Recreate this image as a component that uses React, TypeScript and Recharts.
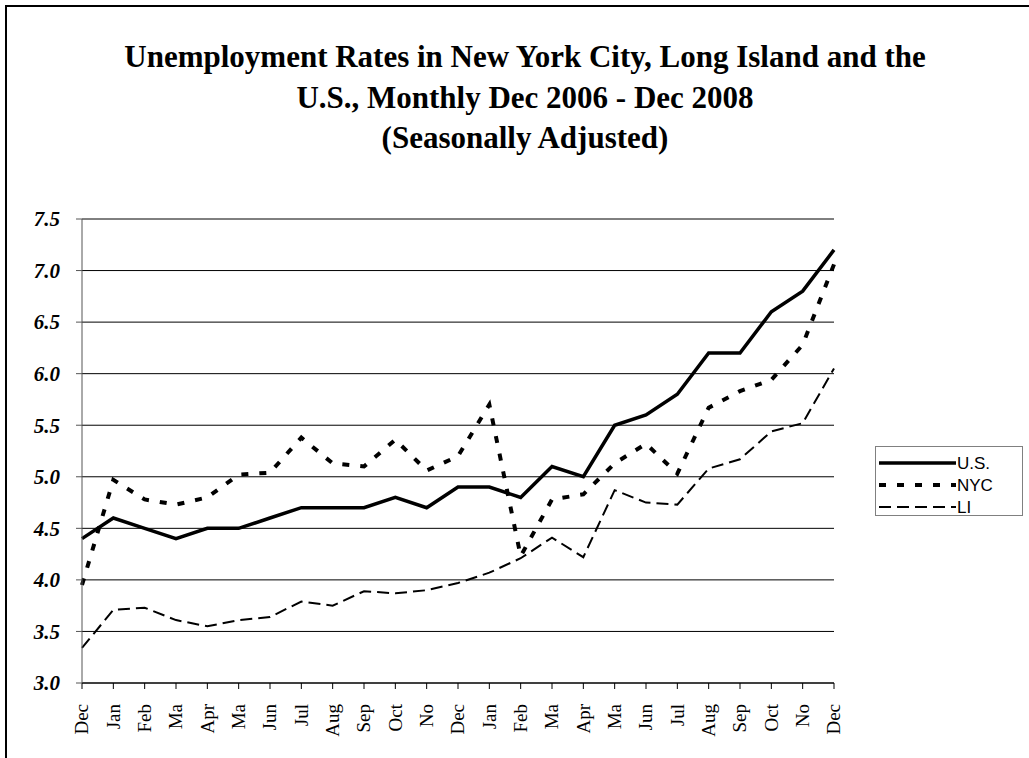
import React from 'react';
import { LineChart, Line, XAxis, YAxis, CartesianGrid } from 'recharts';

const months = ['Dec', 'Jan', 'Feb', 'Ma', 'Apr', 'Ma', 'Jun', 'Jul', 'Aug', 'Sep', 'Oct', 'No', 'Dec',
  'Jan', 'Feb', 'Ma', 'Apr', 'Ma', 'Jun', 'Jul', 'Aug', 'Sep', 'Oct', 'No', 'Dec'];
const us = [4.4, 4.6, 4.5, 4.4, 4.5, 4.5, 4.6, 4.7, 4.7, 4.7, 4.8, 4.7, 4.9,
  4.9, 4.8, 5.1, 5.0, 5.5, 5.6, 5.8, 6.2, 6.2, 6.6, 6.8, 7.2];
const nyc = [3.95, 4.97, 4.78, 4.73, 4.8, 5.02, 5.04, 5.38, 5.13, 5.1, 5.36, 5.06, 5.2,
  5.7, 4.23, 4.78, 4.83, 5.13, 5.32, 5.03, 5.67, 5.83, 5.94, 6.28, 7.06];
const li = [3.34, 3.71, 3.73, 3.61, 3.55, 3.61, 3.64, 3.79, 3.75, 3.89, 3.87, 3.9, 3.97,
  4.07, 4.21, 4.41, 4.22, 4.87, 4.75, 4.73, 5.08, 5.17, 5.44, 5.52, 6.05];
const yTicks = [3.0, 3.5, 4.0, 4.5, 5.0, 5.5, 6.0, 6.5, 7.0, 7.5];
const titleLines = [
  'Unemployment Rates in New York City, Long Island and the',
  'U.S., Monthly Dec 2006 - Dec 2008',
  '(Seasonally Adjusted)',
];

const data = months.map((m, i) => ({ idx: i, label: m, us: us[i], nyc: nyc[i], li: li[i] }));

const seriesStyles = [
  { key: 'us', name: 'U.S.', width: 3.5, dash: undefined as string | undefined },
  { key: 'nyc', name: 'NYC', width: 4, dash: '7 11' },
  { key: 'li', name: 'LI', width: 2, dash: '12 6' },
];

const XTick = (props: any) => {
  const { x, y, payload } = props;
  return (
    <g transform={`translate(${x},${y + 13})`}>
      <text transform="rotate(-90)" textAnchor="end" dy="0.33em"
        fontFamily="'Liberation Serif', 'Times New Roman', serif" fontSize={19} fill="#000">
        {months[payload.value]}
      </text>
    </g>
  );
};

const YTick = (props: any) => {
  const { x, y, payload } = props;
  return (
    <text x={x} y={y} dy="0.35em" textAnchor="end"
      fontFamily="'Liberation Serif', 'Times New Roman', serif" fontSize={21}
      fontWeight="bold" fontStyle="italic" fill="#000">
      {Number(payload.value).toFixed(1)}
    </text>
  );
};

const LegendBox = () => (
  <div style={{ position: 'absolute', left: 875, top: 446, width: 146, height: 68, border: '1px solid #808080', background: '#fff' }}>
    <svg width={146} height={68} style={{ display: 'block', overflow: 'visible' }}>
      {seriesStyles.map((s, i) => {
        const cy = 16 + i * 22;
        return (
          <g key={s.key}>
            <line x1={3} x2={80} y1={cy} y2={cy} stroke="#000" strokeWidth={s.width}
              strokeDasharray={s.dash} />
            <text x={81} y={cy} dy="0.36em" fontFamily="'Liberation Sans', Arial, sans-serif"
              fontSize={17} fill="#000">{s.name}</text>
          </g>
        );
      })}
    </svg>
  </div>
);

export default function App() {
  return (
    <div style={{ position: 'absolute', left: 0, top: 0, width: 1029, height: 758, overflow: 'hidden', background: '#fff' }}>
      <div style={{ position: 'absolute', left: 5, top: 5, width: 1100, height: 900, borderLeft: '2px solid #000', borderTop: '2px solid #000' }} />
      <div style={{ position: 'absolute', left: 0, top: 37, width: 1050, textAlign: 'center',
        fontFamily: "'Liberation Serif', 'Times New Roman', serif", fontWeight: 'bold', fontSize: 31, lineHeight: '40.5px', color: '#000' }}>
        {titleLines.map((t, i) => <div key={i}>{t}</div>)}
      </div>
      <div style={{ position: 'absolute', left: 0, top: 0 }}>
        <LineChart width={1029} height={758} data={data}
          margin={{ top: 219, right: 195, bottom: 15, left: 22 }}>
          <CartesianGrid vertical={false} stroke="#000" strokeWidth={1} />
          <XAxis dataKey="idx" type="category" interval={0} height={60}
            tick={<XTick />} tickSize={6} stroke="#000" tickLine={{ stroke: '#000' }} />
          <YAxis domain={[3, 7.5]} ticks={yTicks} width={60} interval={0}
            tick={<YTick />} tickSize={6} tickMargin={16} stroke="#555" tickLine={{ stroke: '#555' }} />
          {seriesStyles.map((s) => (
            <Line key={s.key} dataKey={s.key} name={s.name} type="linear" stroke="#000"
              strokeWidth={s.width} strokeDasharray={s.dash} dot={false}
              isAnimationActive={false} strokeLinejoin="miter" strokeLinecap="butt" />
          ))}
        </LineChart>
      </div>
      <LegendBox />
    </div>
  );
}
